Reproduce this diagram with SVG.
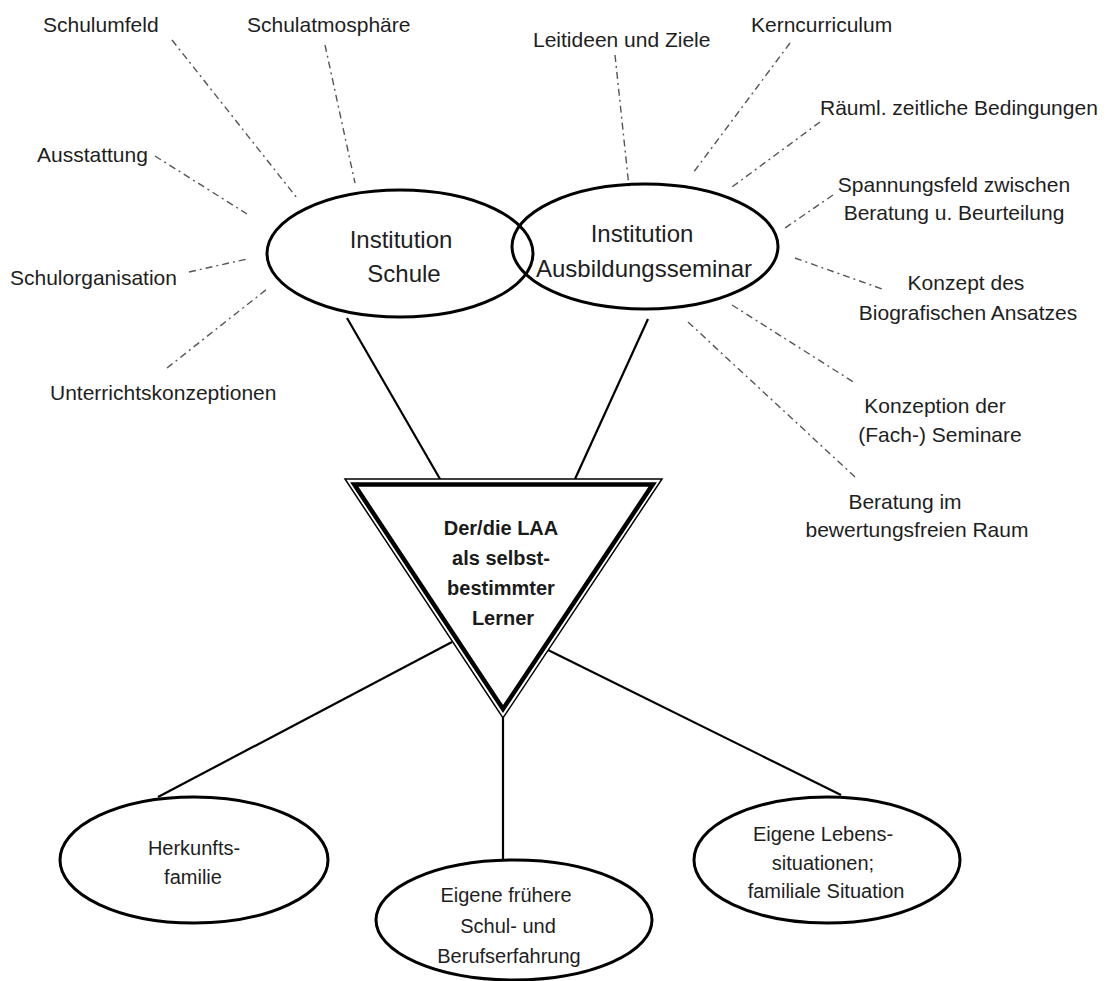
<svg xmlns="http://www.w3.org/2000/svg" width="1107" height="981" viewBox="0 0 1107 981">
<style>
.lbl{font-family:"Liberation Sans",Arial,sans-serif;font-size:21px;fill:#1e1e1e}
.mid{text-anchor:middle}
.big{font-family:"Liberation Sans",Arial,sans-serif;font-size:24px;fill:#1e1e1e;text-anchor:middle}
.sm{font-family:"Liberation Sans",Arial,sans-serif;font-size:20px;fill:#1e1e1e;text-anchor:middle}
.bold{font-family:"Liberation Sans",Arial,sans-serif;font-size:20px;font-weight:bold;fill:#1a1a1a;text-anchor:middle}
.ell{fill:none;stroke:#000;stroke-width:3}
.dash{stroke:#555;stroke-width:1.4;stroke-dasharray:7 4 2 4;fill:none}
.solid{stroke:#000;stroke-width:2.2;fill:none}
</style>
<rect width="1107" height="981" fill="#fff"/>
<g id="connectors">
<line class="dash" x1="172" y1="40" x2="297" y2="198"/>
<line class="dash" x1="325" y1="45" x2="355" y2="183"/>
<line class="dash" x1="155" y1="156" x2="247" y2="214"/>
<line class="dash" x1="189" y1="272" x2="247" y2="259"/>
<line class="dash" x1="167" y1="368" x2="267" y2="289"/>
<line class="dash" x1="615" y1="55" x2="629" y2="187"/>
<line class="dash" x1="790" y1="43" x2="693" y2="173"/>
<line class="dash" x1="820" y1="122" x2="732" y2="187"/>
<line class="dash" x1="833" y1="195" x2="785" y2="228"/>
<line class="dash" x1="795" y1="258" x2="885" y2="290"/>
<line class="dash" x1="732" y1="305" x2="855" y2="383"/>
<line class="dash" x1="688" y1="322" x2="855" y2="477"/>
<line class="solid" x1="347" y1="318" x2="440" y2="479"/>
<line class="solid" x1="648" y1="319" x2="575" y2="479"/>
<line class="solid" x1="452" y1="642" x2="158" y2="797"/>
<line class="solid" x1="548" y1="650" x2="841" y2="795"/>
<line class="solid" x1="503" y1="718" x2="503" y2="860"/>
</g>
<g id="labels-schule">
<text class="lbl" x="43" y="32">Schulumfeld</text>
<text class="lbl" x="247" y="32">Schulatmosphäre</text>
<text class="lbl" x="37" y="162">Ausstattung</text>
<text class="lbl" x="10" y="285">Schulorganisation</text>
<text class="lbl" x="50" y="400">Unterrichtskonzeptionen</text>
</g>
<g id="labels-seminar">
<text class="lbl" x="533" y="47">Leitideen und Ziele</text>
<text class="lbl" x="751" y="32">Kerncurriculum</text>
<text class="lbl" x="820" y="115">Räuml. zeitliche Bedingungen</text>
<text class="lbl mid" x="954" y="192">Spannungsfeld zwischen</text>
<text class="lbl mid" x="954" y="220">Beratung u. Beurteilung</text>
<text class="lbl mid" x="966" y="290">Konzept des</text>
<text class="lbl mid" x="968" y="320">Biografischen Ansatzes</text>
<text class="lbl mid" x="935" y="413">Konzeption der</text>
<text class="lbl mid" x="940" y="442">(Fach-) Seminare</text>
<text class="lbl mid" x="905" y="509">Beratung im</text>
<text class="lbl mid" x="917" y="537">bewertungsfreien Raum</text>
</g>
<g id="node-schule">
<ellipse class="ell" cx="400" cy="253.5" rx="133" ry="63.5"/>
<text class="big" x="401" y="248">Institution</text>
<text class="big" x="404" y="282">Schule</text>
</g>
<g id="node-seminar">
<ellipse class="ell" cx="645" cy="246.5" rx="133" ry="62.5"/>
<text class="big" x="642" y="242">Institution</text>
<text class="big" x="644" y="277">Ausbildungsseminar</text>
</g>
<g id="node-laa">
<polygon points="345,479 662,479 503,718" fill="#fff" stroke="#000" stroke-width="1.5"/>
<polygon points="354.3,484.5 652.7,484.5 503,709" fill="none" stroke="#000" stroke-width="4.5" stroke-linejoin="miter"/>
<text class="bold" x="501" y="535">Der/die LAA</text>
<text class="bold" x="501" y="565">als selbst-</text>
<text class="bold" x="501" y="595">bestimmter</text>
<text class="bold" x="503" y="625">Lerner</text>
</g>
<g id="node-herkunft">
<ellipse class="ell" cx="194" cy="860" rx="134" ry="63"/>
<text class="sm" x="194" y="855">Herkunfts-</text>
<text class="sm" x="193" y="884">familie</text>
</g>
<g id="node-schulerfahrung">
<ellipse class="ell" cx="514" cy="920" rx="138" ry="60"/>
<text class="sm" x="506" y="902">Eigene frühere</text>
<text class="sm" x="508" y="933">Schul- und</text>
<text class="sm" x="509" y="963">Berufserfahrung</text>
</g>
<g id="node-lebens">
<ellipse class="ell" cx="827" cy="860" rx="133" ry="63"/>
<text class="sm" x="823" y="841">Eigene Lebens-</text>
<text class="sm" x="823" y="870">situationen;</text>
<text class="sm" x="826" y="898">familiale Situation</text>
</g>
</svg>
